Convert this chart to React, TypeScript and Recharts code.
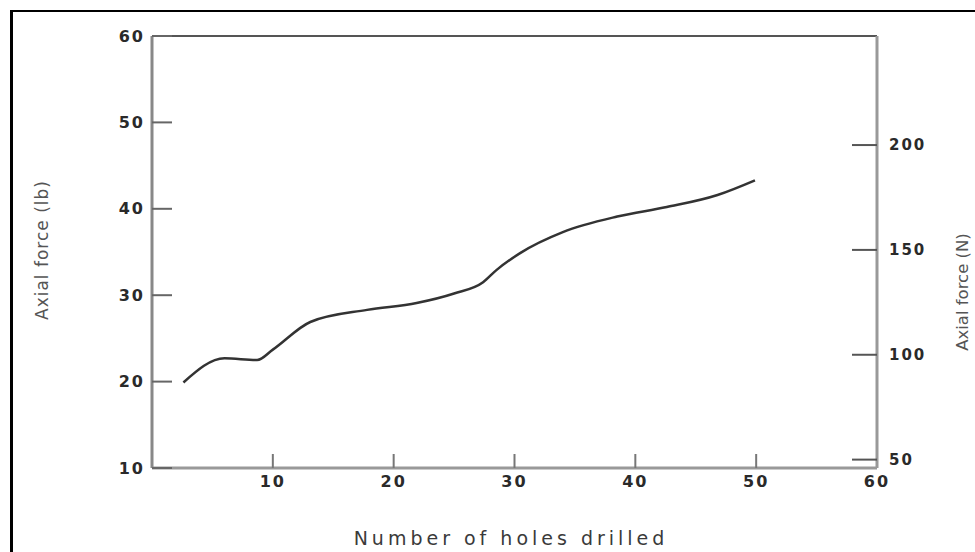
import { LineChart, Line, XAxis, YAxis, ReferenceLine } from 'recharts'

// holes drilled vs axial force
const holes = [2.6, 6.0, 8.7, 10, 13.1, 17.8, 21.9, 25, 27.4, 28.5, 30.5, 34.0, 38.5, 42.6, 46.8, 49.9]
const forceLb = [19.9, 22.7, 22.5, 23.7, 26.9, 28.3, 29.1, 30.2, 31.5, 32.9, 34.9, 37.3, 39.1, 40.2, 41.6, 43.3]

const xTicks = [10, 20, 30, 40, 50, 60]
const lbTicks = [10, 20, 30, 40, 50, 60]
const newtonTicks = [50, 100, 150, 200]

const data = holes.map((h, i) => ({ x: h, lb: forceLb[i] }))

const tickStyle = { fontSize: 16, fontWeight: 'bold', fill: '#2a2a2a', fontFamily: 'DejaVu Sans', letterSpacing: 2 }

export default function App(): JSX.Element {
  return (
    <div style={{ position: 'absolute', left: 0, top: 0, width: 975, height: 552, overflow: 'hidden', background: '#fff' }}>
      <div
        style={{
          position: 'absolute', left: 10, top: 10, width: 1000, height: 600,
          borderTop: '2px solid #000', borderLeft: '3px solid #000',
        }}
      />
      <div style={{ position: 'absolute', left: 0, top: 0 }}>
        <LineChart width={975} height={552} data={data} margin={{ top: 36, right: 0, bottom: 0, left: 0 }}>
          <XAxis
            dataKey="x"
            type="number"
            domain={[0, 60]}
            ticks={xTicks}
            height={84}
            tick={tickStyle}
            axisLine={{ stroke: '#999', strokeWidth: 3 }}
            tickLine={{ stroke: '#777', strokeWidth: 2 }}
            tickSize={-14}
            tickMargin={22}
          />
          <YAxis
            yAxisId="left"
            type="number"
            domain={[10, 60]}
            ticks={lbTicks}
            width={152}
            tick={tickStyle}
            axisLine={{ stroke: '#888', strokeWidth: 3 }}
            tickLine={{ stroke: '#666', strokeWidth: 2 }}
            tickSize={-20}
            tickMargin={27}
          />
          <YAxis
            yAxisId="right"
            orientation="right"
            type="number"
            domain={[46, 252]}
            allowDataOverflow
            ticks={newtonTicks}
            width={98}
            tick={{ ...tickStyle, fontSize: 15 }}
            axisLine={{ stroke: '#999', strokeWidth: 3 }}
            tickLine={{ stroke: '#555', strokeWidth: 2 }}
            tickSize={-25}
            tickMargin={37}
          />
          <ReferenceLine yAxisId="left" y={60} stroke="#555" strokeWidth={2} />
          <Line
            yAxisId="left"
            type="monotone"
            dataKey="lb"
            stroke="#333"
            strokeWidth={2.5}
            dot={false}
            isAnimationActive={false}
          />
        </LineChart>
      </div>
      <svg width={975} height={552} style={{ position: 'absolute', left: 0, top: 0, pointerEvents: 'none' }}>
        <text
          x={0} y={0}
          transform="translate(48,250) rotate(-90)"
          textAnchor="middle"
          style={{ fontSize: 17, fill: '#555', fontFamily: 'DejaVu Sans', letterSpacing: 1 }}
        >
          Axial force (lb)
        </text>
        <text
          x={0} y={0}
          transform="translate(968,292) rotate(-90)"
          textAnchor="middle"
          style={{ fontSize: 16.5, fill: '#555', fontFamily: 'DejaVu Sans' }}
        >
          Axial force (N)
        </text>
        <text
          x={511} y={545}
          textAnchor="middle"
          style={{ fontSize: 19, fill: '#3a3a3a', fontFamily: 'DejaVu Sans', letterSpacing: 4 }}
        >
          Number of holes drilled
        </text>
      </svg>
    </div>
  )
}
